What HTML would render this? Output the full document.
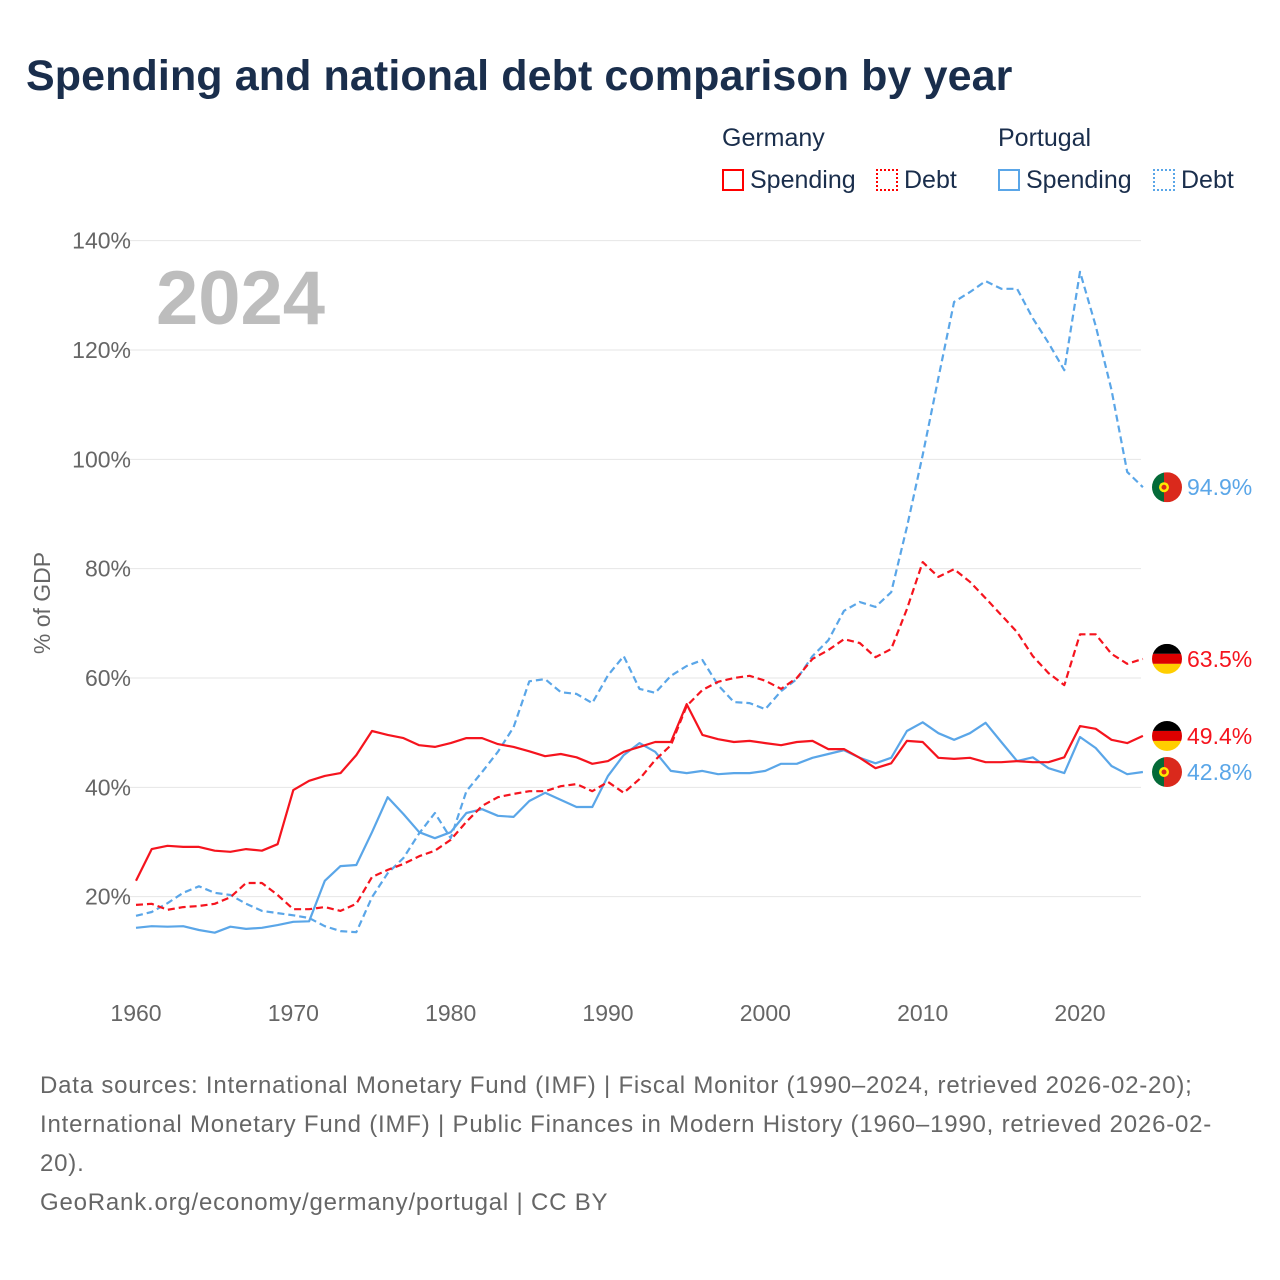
<!DOCTYPE html>
<html><head><meta charset="utf-8">
<style>
body{margin:0;background:#fff;font-family:"Liberation Sans",sans-serif;}
#wrap{position:relative;width:1280px;height:1280px;overflow:hidden;}
h1{position:absolute;left:26px;top:52px;margin:0;font-size:43px;font-weight:bold;color:#1a2e4c;letter-spacing:0.1px;}
.lg{position:absolute;font-size:25px;color:#1a2e4c;}
.box{display:inline-block;width:22px;height:22px;vertical-align:-3px;margin-right:6px;box-sizing:border-box;}
#foot{position:absolute;left:40px;top:1066px;width:1185px;font-size:24px;line-height:39px;color:#666;letter-spacing:0.8px;}
</style></head><body>
<div id="wrap">
<h1>Spending and national debt comparison by year</h1>
<div class="lg" style="left:722px;top:124px">Germany</div>
<div class="lg" style="left:998px;top:124px">Portugal</div>
<div class="lg" style="left:722px;top:166px"><span class="box" style="border:2px solid #f00"></span>Spending</div>
<div class="lg" style="left:876px;top:166px"><span class="box" style="border:2px dotted #f00"></span>Debt</div>
<div class="lg" style="left:998px;top:166px"><span class="box" style="border:2px solid #5aa6e8"></span>Spending</div>
<div class="lg" style="left:1153px;top:166px"><span class="box" style="border:2px dotted #5aa6e8"></span>Debt</div>
<svg id="chart" width="1280" height="1280" style="position:absolute;left:0;top:0"></svg>
<div id="foot">Data sources: International Monetary Fund (IMF) | Fiscal Monitor (1990–2024, retrieved 2026-02-20); International Monetary Fund (IMF) | Public Finances in Modern History (1960–1990, retrieved 2026-02-20).<br>GeoRank.org/economy/germany/portugal | CC BY</div>
</div>
<script>
const years=[];for(let y=1960;y<=2024;y++)years.push(y);
const deSpending=[22.9,28.7,29.3,29.1,29.1,28.4,28.2,28.7,28.4,29.6,39.5,41.2,42.1,42.6,45.9,50.3,49.6,49.0,47.7,47.4,48.1,49.0,49.0,47.9,47.4,46.6,45.7,46.1,45.5,44.3,44.8,46.5,47.4,48.3,48.3,55.2,49.6,48.8,48.3,48.5,48.1,47.7,48.3,48.5,47.0,47.0,45.4,43.5,44.4,48.5,48.3,45.4,45.2,45.4,44.6,44.6,44.8,44.6,44.6,45.5,51.2,50.7,48.7,48.1,49.4];
const deDebt=[18.5,18.7,17.6,18.1,18.3,18.7,19.9,22.5,22.5,20.3,17.7,17.7,18.1,17.4,18.7,23.6,24.9,26.0,27.4,28.4,30.4,33.7,36.6,38.2,38.8,39.3,39.3,40.2,40.6,39.3,41.0,39.0,41.5,45.0,47.7,54.9,57.8,59.3,60.0,60.4,59.5,58.0,60.0,63.5,65.1,67.1,66.4,63.8,65.3,72.6,81.2,78.5,79.9,77.6,74.6,71.5,68.4,64.0,60.9,58.7,68.0,68.0,64.4,62.6,63.5];
const ptSpending=[14.3,14.6,14.5,14.6,13.9,13.4,14.5,14.1,14.3,14.8,15.4,15.5,22.9,25.6,25.8,31.8,38.2,35.1,31.8,30.7,31.8,35.3,36.0,34.8,34.6,37.5,39.0,37.7,36.4,36.4,42.1,45.9,48.1,46.5,43.0,42.6,43.0,42.4,42.6,42.6,43.0,44.3,44.3,45.4,46.1,46.8,45.4,44.4,45.4,50.3,51.9,49.9,48.7,49.9,51.8,48.3,44.8,45.5,43.5,42.6,49.2,47.2,43.9,42.4,42.8];
const ptDebt=[16.5,17.2,18.8,20.7,21.9,20.7,20.3,18.7,17.4,17.0,16.6,16.1,14.6,13.7,13.5,19.9,24.3,27.1,31.6,35.3,30.7,39.3,42.8,46.5,51.0,59.4,59.8,57.4,57.1,55.4,60.5,64.0,58.0,57.3,60.4,62.2,63.3,58.7,55.6,55.4,54.3,57.6,59.8,64.0,66.9,72.3,73.9,73.0,75.7,87.6,100.8,114.9,128.8,130.6,132.6,131.2,131.2,125.8,121.3,116.3,134.3,124.4,112.7,97.7,94.9];
const yTicks=[20,40,60,80,100,120,140];
const xTicks=[1960,1970,1980,1990,2000,2010,2020];

const NS="http://www.w3.org/2000/svg";
const svg=document.getElementById('chart');
const X=y=>136+(y-1960)*(944/60);
const Y=v=>1006-v*(656/120);
function mk(t,a){const e=document.createElementNS(NS,t);for(const k in a)e.setAttribute(k,a[k]);svg.appendChild(e);return e;}
yTicks.forEach(v=>{
  const g=mk('line',{x1:112,x2:1141,y1:Y(v),y2:Y(v),stroke:'#e6e6e6','stroke-width':1});
  
  
  const t=mk('text',{x:131,y:Y(v)+8,'text-anchor':'end','font-size':23,fill:'#666'});t.textContent=v+'%';
  
  
});
xTicks.forEach(v=>{
  const t=mk('text',{x:X(v),y:1021,'text-anchor':'middle','font-size':23,fill:'#666'});t.textContent=v;
  
  
});
const yt=mk('text',{x:0,y:0,transform:'translate(50,603) rotate(-90)','text-anchor':'middle','font-size':23,fill:'#666'});yt.textContent='% of GDP';


const yr=mk('text',{x:156,y:324,'font-size':76,'font-weight':'bold',fill:'#bdbdbd'});yr.textContent='2024';


const red='#f5141e',blue='#5aa6e8';
function line(data,color,dash,name){
  const d=data.map((v,i)=>(i?'L':'M')+X(years[i]).toFixed(1)+','+Y(v).toFixed(1)).join('');
  const p=mk('path',{d:d,fill:'none',stroke:color,'stroke-width':2.2,'stroke-dasharray':dash?'7,4':'none','stroke-linejoin':'round'});
  
  
}
line(ptDebt,blue,true,'portugal-debt-line');
line(ptSpending,blue,false,'portugal-spending-line');
line(deDebt,red,true,'germany-debt-line');
line(deSpending,red,false,'germany-spending-line');
function flag(v,country,color,name){
  const cx=1167,cy=Y(v);
  const g=document.createElementNS(NS,'g');svg.appendChild(g);
  
  
  const cid='c'+name;
  const cp=document.createElementNS(NS,'clipPath');cp.setAttribute('id',cid);
  const cc=document.createElementNS(NS,'circle');cc.setAttribute('cx',cx);cc.setAttribute('cy',cy);cc.setAttribute('r',15);cp.appendChild(cc);g.appendChild(cp);
  const add=(t,a)=>{const e=document.createElementNS(NS,t);for(const k in a)e.setAttribute(k,a[k]);e.setAttribute('clip-path','url(#'+cid+')');g.appendChild(e);return e;};
  if(country==='de'){
    add('rect',{x:cx-15,y:cy-15,width:30,height:10,fill:'#000'});
    add('rect',{x:cx-15,y:cy-5,width:30,height:10,fill:'#dd0000'});
    add('rect',{x:cx-15,y:cy+5,width:30,height:10,fill:'#ffce00'});
  }else{
    add('rect',{x:cx-15,y:cy-15,width:12,height:30,fill:'#046a38'});
    add('rect',{x:cx-3,y:cy-15,width:18,height:30,fill:'#da291c'});
    add('circle',{cx:cx-3,cy:cy,r:5,fill:'#ffe900'});
    add('circle',{cx:cx-3,cy:cy,r:2.5,fill:'#da291c'});
  }
  const t=mk('text',{x:1187,y:cy+8,'font-size':23,fill:color});t.textContent=v.toFixed(1)+'%';
  
  
}
flag(ptDebt[64],'pt',blue,'portugal-debt');
flag(deDebt[64],'de',red,'germany-debt');
flag(deSpending[64],'de',red,'germany-spending');
flag(ptSpending[64],'pt',blue,'portugal-spending');
</script>
</body></html>
